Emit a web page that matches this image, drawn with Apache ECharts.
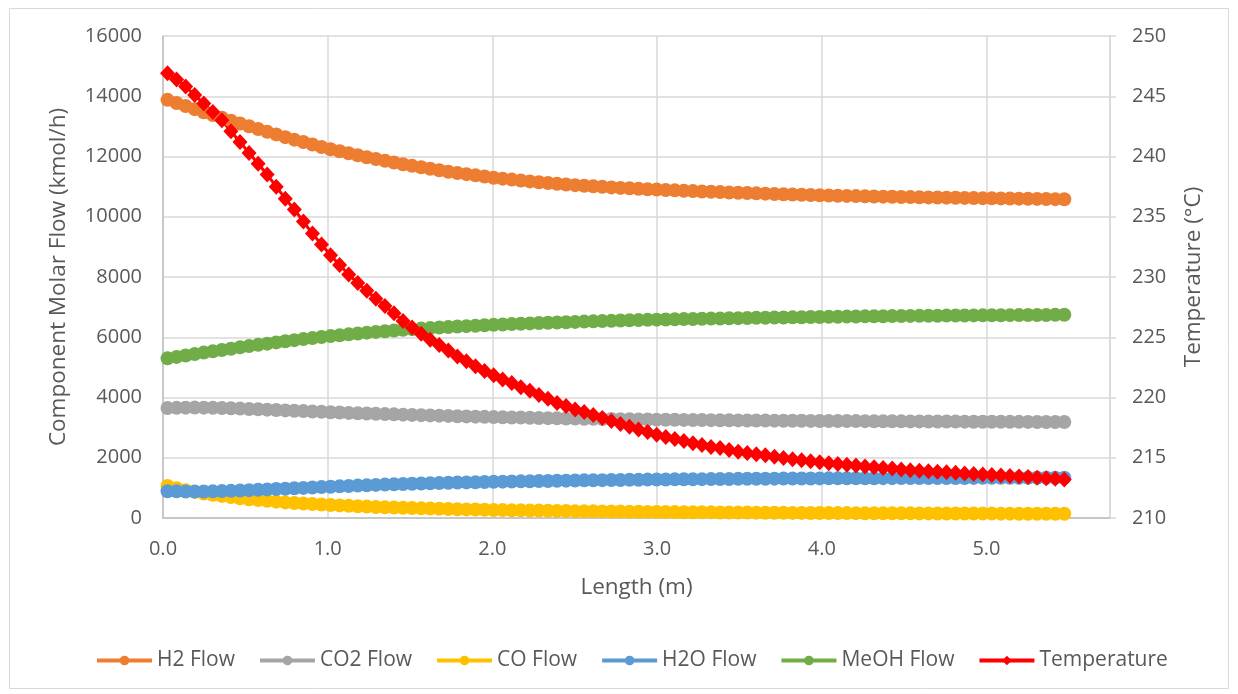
<!DOCTYPE html>
<html>
<head>
<meta charset="utf-8">
<title>Reactor profile</title>
<script src="https://cdn.jsdelivr.net/npm/echarts@6/dist/echarts.min.js"></script>
<style>
	html, body { margin: 0; padding: 0; background: #fff; }
	#profileChart { width: 1238px; height: 694px; }
</style>
</head>
<body>
<div id="profileChart"></div>
<script>
/* reactor length (m) */
var lengthM = [
	0.0275, 0.0825, 0.1375, 0.1925, 0.2475, 0.3025, 0.3575, 0.4125, 0.4675, 0.5225,
	0.5775, 0.6325, 0.6875, 0.7425, 0.7975, 0.8525, 0.9075, 0.9625, 1.0175, 1.0725,
	1.1275, 1.1825, 1.2375, 1.2925, 1.3475, 1.4025, 1.4575, 1.5125, 1.5675, 1.6225,
	1.6775, 1.7325, 1.7875, 1.8425, 1.8975, 1.9525, 2.0075, 2.0625, 2.1175, 2.1725,
	2.2275, 2.2825, 2.3375, 2.3925, 2.4475, 2.5025, 2.5575, 2.6125, 2.6675, 2.7225,
	2.7775, 2.8325, 2.8875, 2.9425, 2.9975, 3.0525, 3.1075, 3.1625, 3.2175, 3.2725,
	3.3275, 3.3825, 3.4375, 3.4925, 3.5475, 3.6025, 3.6575, 3.7125, 3.7675, 3.8225,
	3.8775, 3.9325, 3.9875, 4.0425, 4.0975, 4.1525, 4.2075, 4.2625, 4.3175, 4.3725,
	4.4275, 4.4825, 4.5375, 4.5925, 4.6475, 4.7025, 4.7575, 4.8125, 4.8675, 4.9225,
	4.9775, 5.0325, 5.0875, 5.1425, 5.1975, 5.2525, 5.3075, 5.3625, 5.4175, 5.4725
];

/* component molar flows (kmol/h) */
var h2Flow = [
	13880, 13777, 13675, 13572, 13470, 13380, 13285, 13190, 13096, 13003,
	12913, 12823, 12733, 12642, 12560, 12479, 12397, 12316, 12239, 12173,
	12107, 12041, 11975, 11916, 11859, 11802, 11744, 11689, 11641, 11592,
	11544, 11495, 11453, 11414, 11374, 11334, 11296, 11265, 11234, 11203,
	11173, 11146, 11122, 11097, 11073, 11049, 11030, 11012, 10993, 10974,
	10958, 10944, 10929, 10915, 10901, 10888, 10876, 10864, 10852, 10840,
	10829, 10818, 10807, 10796, 10786, 10776, 10767, 10757, 10747, 10738,
	10729, 10721, 10712, 10705, 10698, 10692, 10685, 10679, 10673, 10668,
	10662, 10657, 10652, 10648, 10643, 10639, 10634, 10630, 10626, 10621,
	10617, 10613, 10609, 10605, 10601, 10597, 10593, 10589, 10585, 10580
];
var co2Flow = [
	3650, 3657, 3663, 3665, 3663, 3660, 3652, 3643, 3632, 3620,
	3608, 3596, 3584, 3572, 3560, 3548, 3536, 3524, 3512, 3500,
	3489, 3478, 3467, 3458, 3449, 3440, 3431, 3423, 3414, 3406,
	3397, 3389, 3380, 3372, 3365, 3357, 3349, 3343, 3337, 3332,
	3326, 3321, 3315, 3310, 3305, 3300, 3296, 3292, 3288, 3284,
	3281, 3277, 3273, 3269, 3265, 3262, 3259, 3257, 3254, 3251,
	3248, 3246, 3243, 3240, 3238, 3236, 3234, 3232, 3230, 3228,
	3226, 3224, 3222, 3221, 3219, 3218, 3216, 3215, 3213, 3212,
	3210, 3208, 3207, 3206, 3204, 3203, 3201, 3200, 3198, 3197,
	3196, 3194, 3193, 3192, 3191, 3190, 3189, 3188, 3186, 3185
];
var coFlow = [
	1060, 990, 922, 866, 812, 773, 734, 694, 654, 620,
	594, 569, 543, 518, 500, 482, 465, 447, 431, 418,
	405, 391, 378, 367, 357, 347, 338, 328, 320, 313,
	305, 297, 291, 285, 279, 273, 267, 262, 258, 254,
	249, 245, 240, 236, 232, 228, 225, 222, 219, 216,
	212, 209, 206, 203, 200, 198, 196, 193, 191, 189,
	187, 185, 182, 180, 179, 177, 175, 174, 172, 170,
	169, 167, 165, 164, 163, 162, 161, 160, 159, 157,
	156, 155, 154, 153, 152, 151, 150, 149, 148, 147,
	146, 146, 145, 144, 143, 143, 142, 141, 141, 140
];
var h2oFlow = [
	890, 885, 881, 880, 881, 885, 893, 902, 913, 925,
	937, 949, 961, 973, 986, 999, 1012, 1026, 1039, 1051,
	1063, 1075, 1087, 1098, 1108, 1118, 1127, 1137, 1145, 1153,
	1161, 1169, 1176, 1182, 1188, 1194, 1200, 1206, 1211, 1216,
	1221, 1226, 1230, 1235, 1240, 1245, 1249, 1252, 1256, 1260,
	1263, 1267, 1270, 1274, 1278, 1280, 1283, 1285, 1288, 1290,
	1292, 1295, 1297, 1300, 1301, 1303, 1305, 1306, 1308, 1310,
	1311, 1313, 1315, 1316, 1317, 1318, 1319, 1320, 1321, 1322,
	1323, 1324, 1325, 1326, 1327, 1328, 1328, 1329, 1330, 1331,
	1332, 1332, 1333, 1333, 1334, 1334, 1335, 1335, 1336, 1336
];
var meohFlow = [
	5300, 5348, 5395, 5443, 5490, 5532, 5576, 5620, 5664, 5707,
	5747, 5788, 5829, 5869, 5904, 5938, 5972, 6007, 6039, 6068,
	6096, 6125, 6153, 6178, 6201, 6224, 6247, 6269, 6287, 6304,
	6322, 6339, 6355, 6369, 6383, 6398, 6412, 6424, 6436, 6448,
	6460, 6471, 6481, 6491, 6500, 6510, 6519, 6528, 6536, 6545,
	6554, 6562, 6569, 6577, 6585, 6591, 6597, 6603, 6608, 6614,
	6619, 6624, 6629, 6634, 6639, 6644, 6648, 6653, 6657, 6661,
	6666, 6670, 6674, 6678, 6682, 6685, 6689, 6693, 6696, 6699,
	6702, 6705, 6708, 6710, 6713, 6716, 6718, 6720, 6723, 6725,
	6727, 6729, 6731, 6733, 6735, 6737, 6739, 6741, 6743, 6745
];

/* temperature (°C) */
var temperature = [
	246.9, 246.4, 245.8, 245.1, 244.4, 243.7, 243.0, 242.1, 241.2, 240.3,
	239.4, 238.5, 237.5, 236.5, 235.6, 234.6, 233.6, 232.7, 231.8, 231.0,
	230.2, 229.5, 228.85, 228.2, 227.6, 227.0, 226.35, 225.8, 225.3, 224.8,
	224.35, 223.9, 223.4, 223.0, 222.6, 222.2, 221.85, 221.5, 221.2, 220.85,
	220.55, 220.2, 219.9, 219.55, 219.3, 219.0, 218.8, 218.55, 218.3, 218.05,
	217.8, 217.57, 217.35, 217.13, 216.9, 216.73, 216.55, 216.38, 216.2, 216.05,
	215.9, 215.8, 215.65, 215.5, 215.4, 215.3, 215.2, 215.08, 214.97, 214.88,
	214.8, 214.7, 214.62, 214.55, 214.48, 214.42, 214.35, 214.28, 214.22, 214.15,
	214.1, 214.02, 213.97, 213.93, 213.88, 213.84, 213.8, 213.75, 213.7, 213.66,
	213.62, 213.57, 213.53, 213.49, 213.44, 213.4, 213.35, 213.3, 213.25, 213.2
];

var seriesNames = ['H2 Flow', 'CO2 Flow', 'CO Flow', 'H2O Flow', 'MeOH Flow', 'Temperature'];
var seriesColors = ['#ED7D31', '#A5A5A5', '#FFC000', '#5B9BD5', '#70AD47', '#FF0000'];

function pairs(xs, ys) {
	var out = [];
	for (var i = 0; i < xs.length; i++) {
		out.push([xs[i], ys[i]]);
	}
	return out;
}

function flowSeries(idx, values) {
	return {
		name: seriesNames[idx],
		type: 'line',
		data: pairs(lengthM, values),
		symbol: 'circle',
		symbolSize: 14,
		showAllSymbol: true,
		lineStyle: { width: 3, color: seriesColors[idx] },
		itemStyle: { color: seriesColors[idx] }
	};
}

var textColor = '#595959';
var fontName = 'Open Sans';

var profileOption = {
	backgroundColor: '#fff',
	animation: false,
	textStyle: { fontFamily: fontName },
	color: seriesColors,
	graphic: [{
		type: 'rect',
		shape: { x: 9.5, y: 8.5, width: 1219, height: 680 },
		style: { fill: 'none', stroke: '#d9d9d9', lineWidth: 1 },
		silent: true
	}],
	grid: {
		left: 163,
		right: 128,
		top: 36,
		bottom: 176
	},
	legend: {
		left: 95,
		top: 650,
		padding: 0,
		itemWidth: 55,
		itemHeight: 12,
		itemGap: 23,
		lineStyle: { width: 4 },
		textStyle: { color: textColor, fontSize: 21, fontFamily: fontName },
		data: seriesNames
	},
	xAxis: {
		type: 'value',
		min: 0,
		max: 5.75,
		interval: 1,
		name: 'Length (m)',
		nameLocation: 'middle',
		nameGap: 58,
		nameTextStyle: { color: textColor, fontSize: 22.5, fontFamily: fontName },
		axisLine: { show: true, onZero: false, lineStyle: { color: '#bfbfbf', width: 1.5 } },
		axisTick: { show: false },
		axisLabel: {
			color: textColor,
			fontSize: 20,
			fontFamily: fontName,
			margin: 21,
			showMaxLabel: false,
			formatter: function(v) { return v.toFixed(1); }
		},
		splitLine: { show: true, lineStyle: { color: '#d9d9d9', width: 1.5 } }
	},
	yAxis: [{
		type: 'value',
		min: 0,
		max: 16000,
		interval: 2000,
		name: 'Component Molar Flow (kmol/h)',
		nameLocation: 'middle',
		nameGap: 93,
		nameTextStyle: { color: textColor, fontSize: 22.5, fontFamily: fontName },
		axisLine: { show: true, lineStyle: { color: '#bfbfbf', width: 1.5 } },
		axisTick: { show: false },
		axisLabel: {
			color: textColor,
			fontSize: 20,
			fontFamily: fontName,
			margin: 21,
			formatter: function(v) { return String(v); }
		},
		splitLine: { show: true, lineStyle: { color: '#d9d9d9', width: 1.5 } }
	}, {
		type: 'value',
		min: 210,
		max: 250,
		interval: 5,
		position: 'right',
		name: 'Temperature (°C)',
		nameLocation: 'middle',
		nameGap: 72,
		nameTextStyle: { color: textColor, fontSize: 22.5, fontFamily: fontName },
		axisLine: { show: true, lineStyle: { color: '#d9d9d9', width: 1.5 } },
		axisTick: { show: true, inside: false, length: 6, lineStyle: { color: '#d9d9d9', width: 1.5 } },
		axisLabel: { color: textColor, fontSize: 20, fontFamily: fontName, margin: 22 },
		splitLine: { show: false }
	}],
	series: [
		flowSeries(0, h2Flow),
		flowSeries(1, co2Flow),
		flowSeries(2, coFlow),
		flowSeries(3, h2oFlow),
		flowSeries(4, meohFlow),
		{
			name: seriesNames[5],
			type: 'line',
			yAxisIndex: 1,
			data: pairs(lengthM, temperature),
			symbol: 'diamond',
			symbolSize: [15, 16],
			showAllSymbol: true,
			lineStyle: { width: 3, color: seriesColors[5] },
			itemStyle: { color: seriesColors[5] }
		}
	]
};

function setInit(id, option) {
	var chart = echarts.init(document.getElementById(id));
	chart.setOption(option);
	window.addEventListener('resize', function() {
		chart.resize();
	});
}

setInit('profileChart', profileOption);
</script>
</body>
</html>
